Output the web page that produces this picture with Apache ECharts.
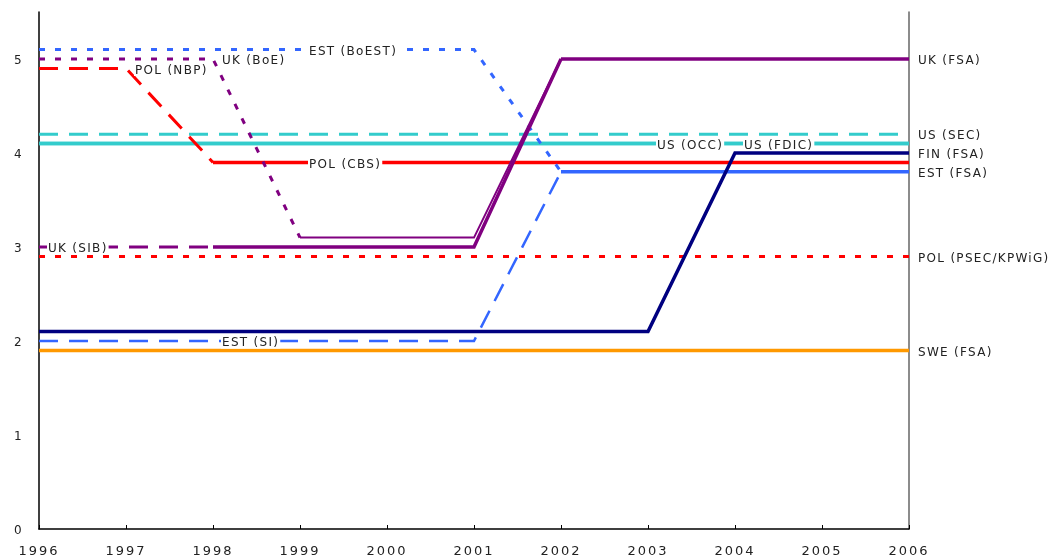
<!DOCTYPE html>
<html><head><meta charset="utf-8">
<script src="https://cdn.jsdelivr.net/npm/echarts@6/dist/echarts.min.js"></script>
<style>html,body{margin:0;padding:0;background:#fff}#c{width:1056px;height:559px}</style>
</head><body><div id="c"></div>
<script>
// ---- data ----
const years = [1996, 1997, 1998, 1999, 2000, 2001, 2002, 2003, 2004, 2005, 2006];
const N = null;
const EST_BoEST   = [5.1, 5.1, 5.1, 5.1, 5.1, 5.1, 3.8, N, N, N, N];
const EST_SI      = [2.0, 2.0, 2.0, 2.0, 2.0, 2.0, 3.8, N, N, N, N];
const EST_FSA     = [N, N, N, N, N, N, 3.8, 3.8, 3.8, 3.8, 3.8];
const UK_BoE      = [5.0, 5.0, 5.0, 3.1, N, N, N, N, N, N, N];
const UK_BoE_late = [N, N, N, 3.1, 3.1, 3.1, 5.0, N, N, N, N];
const UK_SIB      = [3.0, 3.0, 3.0, N, N, N, N, N, N, N, N];
const UK_SIB_late = [N, N, 3.0, 3.0, 3.0, 3.0, 5.0, N, N, N, N];
const UK_FSA      = [N, N, N, N, N, N, 5.0, 5.0, 5.0, 5.0, 5.0];
const POL_NBP     = [4.9, 4.9, 3.9, N, N, N, N, N, N, N, N];
const POL_CBS     = [N, N, 3.9, 3.9, 3.9, 3.9, 3.9, 3.9, 3.9, 3.9, 3.9];
const POL_PSEC    = [2.9, 2.9, 2.9, 2.9, 2.9, 2.9, 2.9, 2.9, 2.9, 2.9, 2.9];
const US_SEC      = [4.2, 4.2, 4.2, 4.2, 4.2, 4.2, 4.2, 4.2, 4.2, 4.2, 4.2];
const US_OCC      = [4.1, 4.1, 4.1, 4.1, 4.1, 4.1, 4.1, 4.1, 4.1, 4.1, 4.1];
const US_FDIC     = [4.1, 4.1, 4.1, 4.1, 4.1, 4.1, 4.1, 4.1, 4.1, 4.1, 4.1];
const FIN_FSA     = [2.1, 2.1, 2.1, 2.1, 2.1, 2.1, 2.1, 2.1, 4.0, 4.0, 4.0];
const SWE_FSA     = [1.9, 1.9, 1.9, 1.9, 1.9, 1.9, 1.9, 1.9, 1.9, 1.9, 1.9];
// inline labels: series name -> year where the label sits
const inlineLabels = [
  ['EST (BoEST)', 1999], ['UK (BoE)', 1998], ['POL (NBP)', 1997], ['POL (CBS)', 1999],
  ['UK (SIB)', 1996], ['EST (SI)', 1998], ['US (OCC)', 2003], ['US (FDIC)', 2004]
];
const endLabelSeries = ['UK (FSA)', 'US (SEC)', 'FIN (FSA)', 'EST (FSA)', 'POL (PSEC/KPWiG)', 'SWE (FSA)'];
const yTicks = [0, 1, 2, 3, 4, 5];

// ---- letter spacing (Verdana-like look) ----
(function () {
  const P = CanvasRenderingContext2D.prototype;
  if (!('letterSpacing' in P)) return;
  function sp(ctx) {
    const m = /(\d+(?:\.\d+)?)px/.exec(ctx.font);
    const s = m ? parseFloat(m[1]) : 12;
    ctx.letterSpacing = s >= 13 ? '2px' : '1.3px';
  }
  const mt = P.measureText, ft = P.fillText, st = P.strokeText;
  P.measureText = function (t) { sp(this); return mt.call(this, t); };
  P.fillText = function () { sp(this); return ft.apply(this, arguments); };
  P.strokeText = function () { sp(this); return st.apply(this, arguments); };
})();

// ---- styles ----
const PURPLE = '#800080', RED = '#ff0000', CYAN = '#33cccc', NAVY = '#000080', BLUE = '#3366ff', ORANGE = '#ff9900';
const DOT = [6, 10], DASH = [19, 11];
const FONT = 'DejaVu Sans, Verdana, sans-serif';
const TXT = '#222';

const defs = [
  { name: 'SWE (FSA)', v: SWE_FSA, c: ORANGE, w: 3.5, t: 'solid' },
  { name: 'POL (PSEC/KPWiG)', v: POL_PSEC, c: RED, w: 3, t: DOT },
  { name: 'US (SEC)', v: US_SEC, c: CYAN, w: 3, t: DASH },
  { name: 'US (OCC)', v: US_OCC, c: CYAN, w: 3.5, t: 'solid' },
  { name: 'US (FDIC)', v: US_FDIC, c: CYAN, w: 3.5, t: 'solid' },
  { name: 'POL (NBP)', v: POL_NBP, c: RED, w: 3, t: DASH },
  { name: 'POL (CBS)', v: POL_CBS, c: RED, w: 3.5, t: 'solid' },
  { name: 'EST (BoEST)', v: EST_BoEST, c: BLUE, w: 3, t: DOT },
  { name: 'EST (SI)', v: EST_SI, c: BLUE, w: 2.5, t: DASH },
  { name: 'EST (FSA)', v: EST_FSA, c: BLUE, w: 3.5, t: 'solid' },
  { name: 'FIN (FSA)', v: FIN_FSA, c: NAVY, w: 3.5, t: 'solid' },
  { name: 'UK (BoE)', v: UK_BoE, c: PURPLE, w: 3, t: DOT },
  { name: 'UK (BoE) 1999-2001', v: UK_BoE_late, c: PURPLE, w: 2, t: 'solid' },
  { name: 'UK (SIB)', v: UK_SIB, c: PURPLE, w: 3, t: DASH },
  { name: 'UK (SIB) 1998-2001', v: UK_SIB_late, c: PURPLE, w: 3.5, t: 'solid' },
  { name: 'UK (FSA)', v: UK_FSA, c: PURPLE, w: 3.5, t: 'solid' }
];

const labelStyle = {
  show: true, position: 'right', distance: 8, offset: [0, 2], color: TXT, fontSize: 12, fontFamily: FONT,
  lineHeight: 11, backgroundColor: '#fff', padding: [0, 1, 0, 1], formatter: '{a}'
};

const series = defs.map(d => {
  const data = [];
  years.forEach((y, i) => {
    if (d.v[i] == null) return;
    const item = { value: [y, d.v[i]] };
    if (inlineLabels.some(l => l[0] === d.name && l[1] === y)) item.label = labelStyle;
    data.push(item);
  });
  const s = {
    type: 'line', name: d.name, data,
    symbol: 'circle', symbolSize: 0, showSymbol: true,
    lineStyle: { color: d.c, width: d.w, type: d.t, cap: 'butt', join: 'miter' },
    itemStyle: { color: d.c },
    label: { show: false },
    emphasis: { disabled: true },
    silent: true
  };
  if (endLabelSeries.includes(d.name)) {
    s.endLabel = { show: true, formatter: '{a}', distance: 9, offset: [0, 2], color: TXT, fontSize: 12, fontFamily: FONT };
  }
  return s;
});

const chart = echarts.init(document.getElementById('c'), null, { renderer: 'canvas' });
chart.setOption({
  animation: false,
  backgroundColor: '#fff',
  grid: { left: 39, right: 147, top: 12, bottom: 30, containLabel: false },
  xAxis: {
    type: 'value', min: years[0], max: years[years.length - 1], interval: 1,
    axisLine: { show: true, lineStyle: { color: '#000', width: 1.5 } },
    axisTick: { show: true, inside: true, length: 4, lineStyle: { color: '#000', width: 1 } },
    axisLabel: { color: TXT, fontSize: 13, fontFamily: FONT, margin: 15, formatter: v => String(v) },
    splitLine: { show: false }
  },
  yAxis: [{
    type: 'value', min: 0, max: 5.5, interval: 1,
    axisLine: { show: true, lineStyle: { color: '#000', width: 1.5 } },
    axisTick: { show: false },
    axisLabel: { color: TXT, fontSize: 12, fontFamily: FONT, margin: 16, showMaxLabel: false,
      formatter: v => (yTicks.includes(v) ? '{t|' + v + '}' : ''),
      rich: { t: { fontSize: 12, fontFamily: FONT, color: TXT, padding: [3, 0, 0, 0] } } },
    splitLine: { show: false }
  }, {
    type: 'value', min: 0, max: 5.5, interval: 1, position: 'right',
    axisLine: { show: true, lineStyle: { color: '#666', width: 1.5 } },
    axisTick: { show: false }, axisLabel: { show: false }, splitLine: { show: false }
  }],
  series
});
</script>
</body></html>
